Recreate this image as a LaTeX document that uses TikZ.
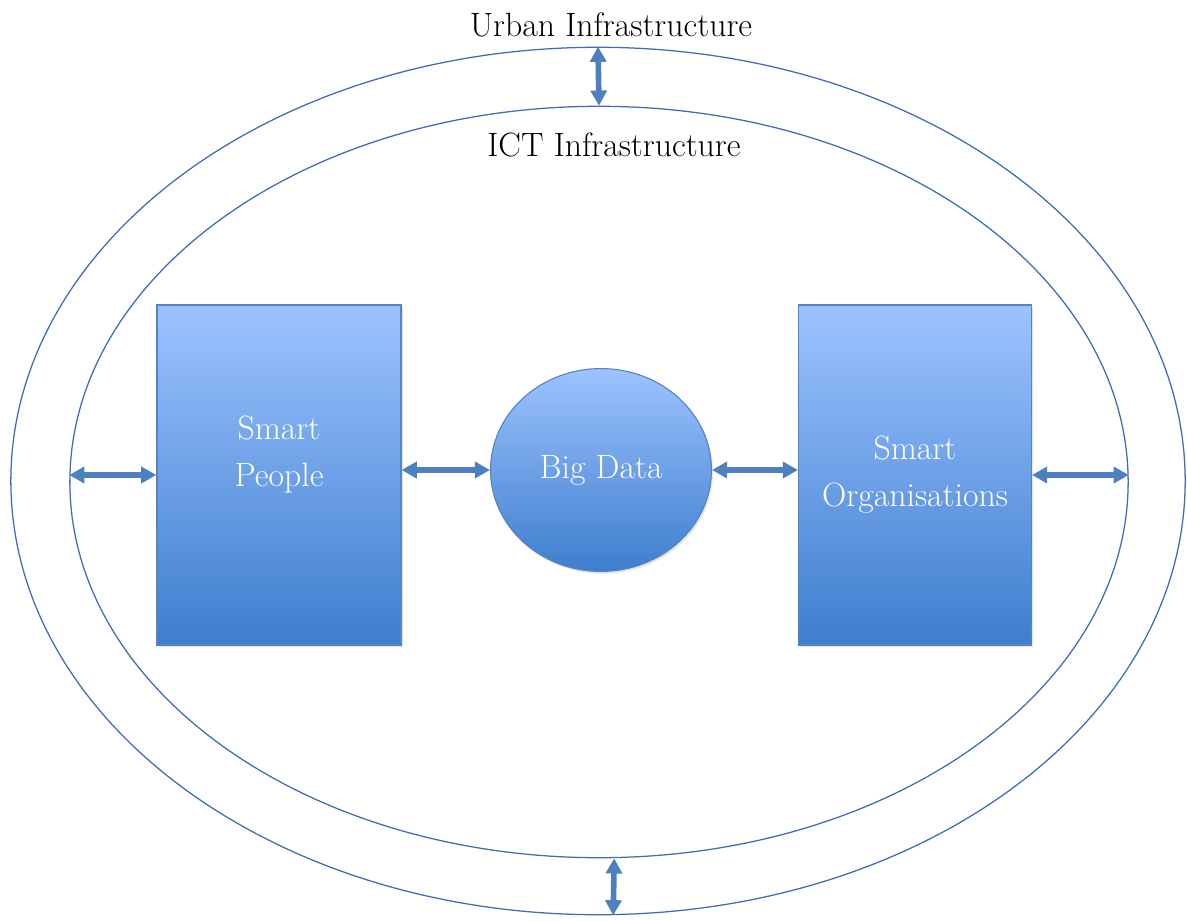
\documentclass[tikz,border=0pt]{standalone}
\usepackage{tikz}
\usetikzlibrary{shapes.geometric,arrows.meta,shadows}

\definecolor{ringblue}{RGB}{62,108,182}
\definecolor{arrowblue}{RGB}{77,128,191}
\definecolor{boxtop}{RGB}{157,195,255}
\definecolor{boxbottom}{RGB}{62,126,206}
\definecolor{boxline}{RGB}{84,132,196}

\begin{document}
\begin{tikzpicture}[
    x=0.025cm, y=-0.025cm,
    ring/.style={ellipse, draw=ringblue, line width=0.9pt, inner sep=0pt},
    label/.style={font=\fontsize{24}{33}\selectfont, text=black},
    box/.style={rectangle, draw=boxline, line width=0.8pt, top color=boxtop, bottom color=boxbottom,
        text=white, align=center, font=\fontsize{24}{33.5}\selectfont,
        drop shadow={opacity=0.2, shadow xshift=0.04cm, shadow yshift=-0.06cm}},
    link/.style={arrowblue, line width=4pt, {Triangle[length=0.38cm, width=0.4cm]}-{Triangle[length=0.38cm, width=0.4cm]}}
]
\useasboundingbox (0,0) rectangle (1187,920);

% Nodes
\node[ring, minimum width=29.35cm, minimum height=21.68cm] (outer) at (598,481) {};
\node[ring, minimum width=26.45cm, minimum height=18.78cm] (inner) at (599,482) {};
\node[label] (urban) at (611,25) {Urban Infrastructure};
\node[label] (ict) at (614,145) {ICT Infrastructure};
\node[box, minimum width=6.1cm, minimum height=8.5cm, text depth=1.2cm] (people) at (279,475) {Smart\\People};
\node[box, ellipse, inner sep=0pt, minimum width=5.52cm, minimum height=5.07cm] (bigdata) at (601,470) {Big Data};
\node[box, minimum width=5.82cm, minimum height=8.5cm] (orgs) at (915,475) {Smart\\Organisations};

% Arrows
\draw[link] (outer.north) -- (inner.north);
\draw[link] ([xshift=0.38cm]inner.south) -- ([xshift=0.38cm]outer.south);
\draw[link] (inner.west |- people.west) -- (people.west);
\draw[link] (people.east |- bigdata.west) -- (bigdata.west);
\draw[link] (bigdata.east) -- (orgs.west |- bigdata.east);
\draw[link] (orgs.east) -- (inner.east |- orgs.east);

\end{tikzpicture}
\end{document}
